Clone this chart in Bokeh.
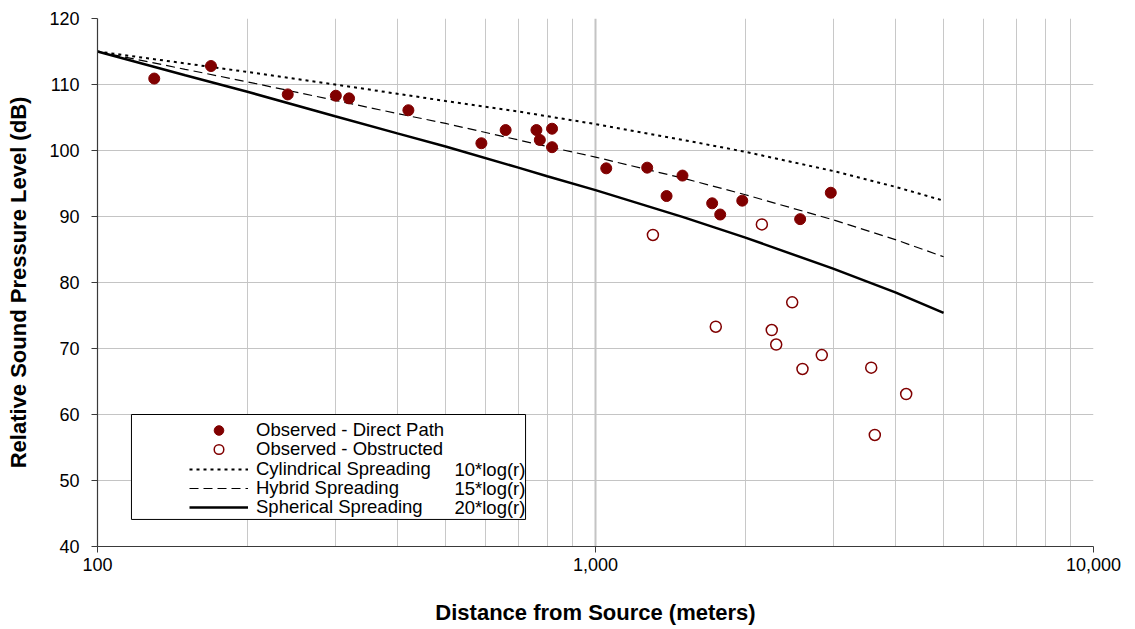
from bokeh.plotting import figure
from bokeh.models import (FixedTicker, NumeralTickFormatter, Legend, LegendItem,
                          BoxAnnotation, Label, Range1d)
from bokeh.embed import file_html
from bokeh.resources import INLINE

# Observed levels, direct line of sight
direct_dist = [130, 169, 241, 301, 320, 421, 590, 660, 761, 773, 818, 818,
               1051, 1270, 1389, 1495, 1715, 1780, 1971, 2576, 2968]
direct_spl = [110.9, 112.8, 108.5, 108.3, 107.9, 106.1, 101.1, 103.1, 103.1, 101.6, 103.3, 100.5,
              97.3, 97.4, 93.1, 96.2, 92.0, 90.3, 92.4, 89.6, 93.6]

# Observed levels, obstructed path
obstructed_dist = [1304, 1744, 2158, 2259, 2306, 2483, 2604, 2847, 3578, 3638, 4206]
obstructed_spl = [87.2, 73.3, 88.8, 72.8, 70.6, 77.0, 66.9, 69.0, 67.1, 56.9, 63.1]

# Spreading-loss model curves
model_dist = [100, 150, 200, 300, 400, 500, 700, 800, 1000, 1500, 2000, 3000, 4000, 5000]
cylindrical = [115.0, 113.2, 111.9, 110.0, 108.6, 107.5, 105.9, 105.2, 104.0, 101.6, 99.8, 96.9, 94.5, 92.4]
hybrid = [115.0, 112.3, 110.4, 107.6, 105.6, 104.1, 101.6, 100.6, 99.0, 95.8, 93.3, 89.5, 86.5, 83.9]
spherical = [115.0, 111.4, 108.9, 105.2, 102.6, 100.6, 97.4, 96.1, 94.0, 89.9, 86.8, 82.1, 78.5, 75.4]

# Axis ticks
x_ticks = [100, 1000, 10000]
x_minor_ticks = [200, 300, 400, 500, 600, 700, 800, 900,
                 2000, 3000, 4000, 5000, 6000, 7000, 8000, 9000]
y_ticks = [40, 50, 60, 70, 80, 90, 100, 110, 120]

FONT = "Liberation Sans"
MAROON = "#800000"

p = figure(width=1135, height=629, x_axis_type="log",
           x_range=Range1d(100, 10000), y_range=Range1d(40, 120),
           output_backend="svg", toolbar_location=None,
           min_border_left=97, min_border_right=42,
           min_border_top=18, min_border_bottom=83)
p.outline_line_color = None
p.background_fill_color = "white"
p.border_fill_color = "white"

# grid
p.xaxis.ticker = FixedTicker(ticks=x_ticks, minor_ticks=x_minor_ticks)
p.yaxis.ticker = FixedTicker(ticks=y_ticks)
p.xgrid.ticker = p.xaxis.ticker
p.xgrid.grid_line_color = "#c4c4c4"
p.xgrid.grid_line_width = 2
p.xgrid.minor_grid_line_color = "#c8c8c8"
p.xgrid.minor_grid_line_width = 1
p.ygrid.grid_line_color = "#c4c4c4"
p.ygrid.grid_line_width = 1

# axes
for ax in (p.xaxis[0], p.yaxis[0]):
    ax.axis_line_color = "#3a3a3a"
    ax.axis_line_width = 1.2
    ax.major_tick_line_color = "#3a3a3a"
    ax.major_tick_out = 6
    ax.major_tick_in = 0
    ax.minor_tick_out = 0
    ax.minor_tick_in = 0
    ax.major_label_text_font = FONT
    ax.major_label_text_font_size = "18px"
    ax.major_label_text_color = "black"
    ax.axis_label_text_font = FONT
    ax.axis_label_text_font_size = "22px"
    ax.axis_label_text_font_style = "bold"
    ax.axis_label_text_color = "black"

p.xaxis.formatter = NumeralTickFormatter(format="0,0")
p.xaxis.major_label_standoff = 5
p.xaxis.axis_label = "Distance from Source (meters)"
p.xaxis.axis_label_standoff = 26
p.yaxis.major_label_standoff = 12
p.yaxis.axis_label = "Relative Sound Pressure Level (dB)"
p.yaxis.axis_label_standoff = 15

# model curves
r_cyl = p.line(model_dist, cylindrical, line_color="black", line_width=2, line_dash="3 4")
r_hyb = p.line(model_dist, hybrid, line_color="black", line_width=1.2, line_dash="9 5")
r_sph = p.line(model_dist, spherical, line_color="black", line_width=2.5)

# observations
r_direct = p.scatter(direct_dist, direct_spl, marker="circle", size=11,
                     fill_color=MAROON, line_color=MAROON)
r_obst = p.scatter(obstructed_dist, obstructed_spl, marker="circle", size=11,
                   fill_color="white", line_color=MAROON, line_width=1.5)

# legend frame
legend_box = BoxAnnotation(left=117.0, right=723.7, top=60.0, bottom=44.1,
                           fill_color="white", fill_alpha=1.0,
                           line_color="black", line_width=1, line_alpha=1.0)
p.add_layout(legend_box)

# one legend entry per row, stacked with a tight line pitch
entries = [
    ("Observed - Direct Path", r_direct, 104),
    ("Observed - Obstructed", r_obst, 85),
    ("Cylindrical Spreading", r_cyl, 65.5),
    ("Hybrid Spreading", r_hyb, 46),
    ("Spherical Spreading", r_sph, 27),
]
for label, rend, ypos in entries:
    lg = Legend(items=[LegendItem(label=label, renderers=[rend])], location=(92, ypos))
    lg.border_line_color = None
    lg.background_fill_alpha = 0
    lg.padding = 0
    lg.margin = 0
    lg.glyph_width = 59
    lg.glyph_height = 24
    lg.label_height = 19
    lg.label_standoff = 8
    lg.label_text_font = FONT
    lg.label_text_font_size = "18.5px"
    lg.label_text_color = "black"
    p.add_layout(lg, "center")

# spreading-law formulas beside the legend entries
for txt, yy in [("10*log(r)", 51.74), ("15*log(r)", 48.82), ("20*log(r)", 45.91)]:
    p.add_layout(Label(x=521, y=yy, text=txt, text_font=FONT, text_font_size="18.5px",
                       text_baseline="middle", text_color="black"))

open("out.html", "w").write(file_html(p, INLINE))
